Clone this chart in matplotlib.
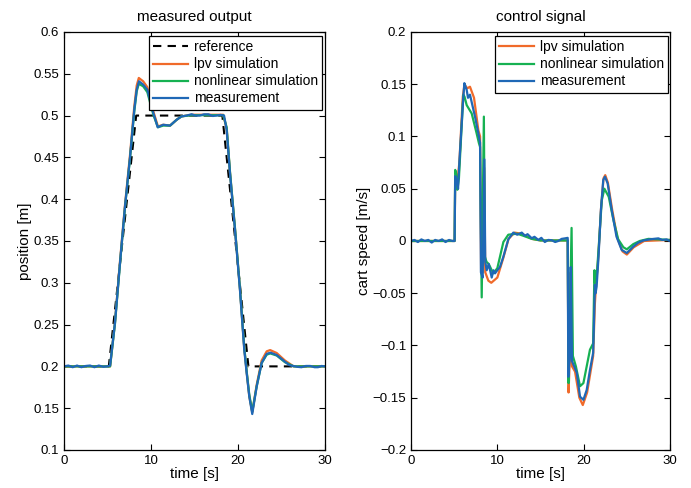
import numpy as np
import matplotlib
matplotlib.use('Agg')
import matplotlib.pyplot as plt
from matplotlib.ticker import FuncFormatter

plt.rcParams['font.family'] = ['Liberation Sans', 'DejaVu Sans']

# colours of the three traces
c_lpv = '#F06A2A'
c_nl = '#16B152'
c_meas = '#1F68B6'

# ---- left panel: measured output (time [s], position [m]) ----
ref_pos = [(0, 0.2), (5.15, 0.2), (8.3, 0.5), (18.2, 0.5), (21.2, 0.2), (30, 0.2)]

lpv_pos = [(0, 0.2), (5.3, 0.2), (5.86, 0.253), (6.44, 0.326), (7.01, 0.393), (7.59, 0.453),
           (8.08, 0.511), (8.36, 0.536), (8.6, 0.545), (9.1, 0.541), (9.58, 0.534), (10.27, 0.505),
           (10.8, 0.487), (11.4, 0.489), (12.2, 0.488), (12.95, 0.495), (13.5, 0.499), (14.7, 0.501),
           (18.3, 0.501), (18.7, 0.484), (19.08, 0.432), (19.66, 0.364), (20.23, 0.292), (20.72, 0.222),
           (21.0, 0.193), (21.3, 0.164), (21.64, 0.145), (22.15, 0.178), (22.72, 0.207), (23.3, 0.218),
           (23.7, 0.2195), (24.45, 0.216), (25.4, 0.207), (26.4, 0.2), (30, 0.2)]

nl_pos = [(0, 0.2), (5.3, 0.2), (5.86, 0.251), (6.44, 0.323), (7.01, 0.39), (7.59, 0.449),
          (8.08, 0.505), (8.36, 0.529), (8.6, 0.538), (9.1, 0.535), (9.58, 0.528), (10.27, 0.501),
          (10.8, 0.486), (11.4, 0.488), (12.2, 0.488), (12.95, 0.495), (13.5, 0.499), (14.7, 0.5005),
          (18.3, 0.5005), (18.7, 0.486), (19.08, 0.433), (19.66, 0.365), (20.23, 0.293), (20.72, 0.223),
          (21.0, 0.194), (21.3, 0.166), (21.64, 0.146), (22.15, 0.176), (22.72, 0.204), (23.3, 0.214),
          (23.7, 0.2155), (24.45, 0.213), (25.4, 0.205), (26.4, 0.2), (30, 0.2)]

meas_pos = [(0, 0.2), (0.5, 0.201), (1.0, 0.199), (1.5, 0.201), (2.0, 0.199), (2.5, 0.2005),
            (3.0, 0.201), (3.5, 0.199), (4.0, 0.201), (4.5, 0.1995), (5.0, 0.2), (5.3, 0.201),
            (5.86, 0.252), (6.44, 0.324), (7.01, 0.391), (7.59, 0.45), (8.08, 0.507), (8.36, 0.531),
            (8.62, 0.541), (9.1, 0.537), (9.58, 0.531), (10.27, 0.503), (10.77, 0.486), (11.4, 0.489),
            (12.18, 0.488), (12.95, 0.495), (13.5, 0.499), (14.1, 0.5), (14.67, 0.5016), (15.1, 0.5),
            (15.6, 0.5), (16.1, 0.5015), (16.6, 0.5015), (17.1, 0.4995), (17.55, 0.5), (18.0, 0.5008),
            (18.4, 0.5), (18.7, 0.483), (19.08, 0.431), (19.66, 0.363), (20.23, 0.291), (20.72, 0.22),
            (21.0, 0.192), (21.3, 0.164), (21.64, 0.143), (22.15, 0.176), (22.72, 0.204), (23.3, 0.215),
            (23.75, 0.2164), (24.45, 0.2136), (25.4, 0.2056), (25.9, 0.2015), (26.36, 0.2005),
            (26.8, 0.1995), (27.3, 0.199), (27.8, 0.2005), (28.3, 0.2005), (28.8, 0.199), (29.2, 0.199),
            (29.6, 0.2005), (30, 0.2)]

# ---- right panel: control signal (time [s], cart speed [m/s]) ----
lpv_u = [(0, 0), (5.05, 0), (5.12, 0.06), (5.35, 0.055), (5.6, 0.075), (6.0, 0.138), (6.2, 0.15),
         (6.5, 0.146), (6.83, 0.1476), (7.3, 0.137), (7.8, 0.106), (8.0, 0.1), (8.12, -0.03),
         (8.3, -0.03), (8.48, 0.07), (8.6, -0.03), (8.96, -0.038), (9.3, -0.04), (10.0, -0.035),
         (10.7, -0.016), (11.3, 0.002), (12.0, 0.008), (12.8, 0.007), (14.0, 0.002), (15.0, 0.0005),
         (18.15, 0.0005), (18.25, -0.145), (18.4, -0.11), (18.5, -0.03), (18.65, -0.12), (19.0, -0.125),
         (19.5, -0.15), (19.9, -0.157), (20.4, -0.145), (20.8, -0.125), (21.1, -0.11), (21.3, -0.06),
         (21.4, -0.047), (21.7, -0.015), (22.0, 0.03), (22.3, 0.06), (22.5, 0.063), (22.8, 0.056),
         (23.3, 0.03), (23.9, 0.003), (24.5, -0.01), (25.0, -0.013), (25.8, -0.006), (27.0, 0),
         (30, 0.001)]

nl_u = [(0, 0), (5.05, 0), (5.12, 0.068), (5.3, 0.062), (5.37, 0.049), (5.55, 0.06), (6.06, 0.14),
        (6.2, 0.138), (6.45, 0.13), (7.03, 0.122), (7.6, 0.103), (7.87, 0.0935), (8.0, 0.09),
        (8.19, -0.054), (8.44, 0.119), (8.55, -0.015), (8.75, -0.02), (9.0, -0.022), (9.53, -0.031),
        (10.0, -0.026), (10.7, -0.001), (11.27, 0.006), (12.3, 0.007), (13.0, 0.005), (14.0, 0.002),
        (15.0, 0.0005), (18.15, 0.0005), (18.25, -0.136), (18.35, -0.09), (18.6, 0.0125),
        (18.75, -0.11), (19.1, -0.12), (19.58, -0.139), (19.97, -0.136), (20.35, -0.12),
        (20.73, -0.104), (21.1, -0.098), (21.18, -0.06), (21.25, -0.028), (21.3, -0.04),
        (21.5, -0.035), (21.75, -0.005), (22.1, 0.039), (22.4, 0.05), (22.9, 0.0424), (23.45, 0.02),
        (24.0, 0.0016), (24.6, -0.006), (25.0, -0.008), (25.75, -0.003), (26.5, 0), (27.5, 0.002),
        (30, 0.001)]

meas_u = [(0, 0), (0.4, 0.001), (0.8, -0.001), (1.2, 0.0015), (1.6, 0), (2.0, 0.001), (2.4, -0.0015),
          (2.8, 0.001), (3.2, 0), (3.6, 0.0015), (4.0, -0.001), (4.4, 0.001), (4.8, 0), (5.05, 0),
          (5.12, 0.062), (5.3, 0.058), (5.45, 0.05), (5.6, 0.075), (6.0, 0.13), (6.18, 0.151),
          (6.3, 0.148), (6.45, 0.1445), (6.6, 0.137), (6.83, 0.14), (7.41, 0.119), (7.8, 0.103),
          (8.0, 0.094), (8.1, -0.03), (8.3, -0.035), (8.5, 0.078), (8.6, -0.02), (8.77, -0.028),
          (9.0, -0.022), (9.35, -0.035), (9.55, -0.028), (9.73, -0.031), (10.0, -0.028), (10.3, -0.025),
          (10.7, -0.015), (11.27, 0.0016), (11.85, 0.008), (12.3, 0.006), (12.83, 0.008), (13.2, 0.005),
          (13.5, 0.0065), (13.98, 0.0026), (14.3, 0.004), (14.75, 0.001), (15.1, 0.003), (15.5, -0.001),
          (15.9, 0.001), (16.3, 0.0007), (16.7, -0.001), (17.06, 0), (17.45, 0.002), (17.84, 0.0025),
          (18.15, 0.003), (18.22, -0.13), (18.4, -0.11), (18.5, -0.025), (18.65, -0.115), (19.2, -0.126),
          (19.58, -0.149), (19.97, -0.152), (20.35, -0.1426), (20.73, -0.1234), (21.1, -0.107),
          (21.25, -0.06), (21.3, -0.042), (21.38, -0.05), (21.5, -0.0437), (21.7, -0.018), (22.0, 0.0297),
          (22.27, 0.0584), (22.47, 0.0615), (22.78, 0.055), (23.25, 0.0297), (23.8, 0.0042),
          (24.4, -0.0085), (25.0, -0.0115), (25.75, -0.0054), (26.3, -0.0017), (26.9, 0.0005),
          (27.5, 0.0013), (28.1, 0.002), (28.65, 0.0025), (29.1, 0.001), (29.6, 0.0015), (30, 0)]


def xy(pairs):
    a = np.array(pairs, dtype=float)
    return a[:, 0], a[:, 1]


def matlab_fmt(v, pos):
    if abs(v) < 1e-9:
        return '0'
    s = '%g' % round(v, 4)
    return s.replace('-', '\u2212')


def style(ax):
    ax.tick_params(direction='in', top=True, right=True, length=4, width=0.8,
                   labelsize=9.5, colors='black')
    for sp in ax.spines.values():
        sp.set_linewidth(0.9)
        sp.set_color('black')
    ax.set_xlim(0, 30)
    ax.set_xticks([0, 10, 20, 30])
    ax.yaxis.set_major_formatter(FuncFormatter(matlab_fmt))
    ax.set_xlabel('time [s]', fontsize=11, labelpad=0)


fig = plt.figure(figsize=(6.91, 4.88), dpi=100)
ax1 = fig.add_axes([0.0926, 0.0779, 0.3777, 0.8566])
ax2 = fig.add_axes([0.5948, 0.0779, 0.3748, 0.8566])

lw = 1.6
ax1.plot(*xy(ref_pos), '--', color='black', lw=1.5, dashes=(4, 3), label='reference')
ax1.plot(*xy(lpv_pos), color=c_lpv, lw=lw, label='lpv simulation')
ax1.plot(*xy(nl_pos), color=c_nl, lw=lw, label='nonlinear simulation')
ax1.plot(*xy(meas_pos), color=c_meas, lw=lw, label='measurement')
style(ax1)
ax1.set_ylim(0.1, 0.6)
ax1.set_yticks(np.arange(0.1, 0.601, 0.05))
ax1.set_ylabel('position [m]', fontsize=11, labelpad=1)
ax1.set_title('measured output', fontsize=11, pad=8)

ax2.plot(*xy(lpv_u), color=c_lpv, lw=lw, label='lpv simulation')
ax2.plot(*xy(nl_u), color=c_nl, lw=lw, label='nonlinear simulation')
ax2.plot(*xy(meas_u), color=c_meas, lw=lw, label='measurement')
style(ax2)
ax2.set_ylim(-0.2, 0.2)
ax2.set_yticks(np.arange(-0.2, 0.201, 0.05))
ax2.set_ylabel('cart speed [m/s]', fontsize=11, labelpad=1)
ax2.set_title('control signal', fontsize=11, pad=8)

for ax, anchor in ((ax1, (0.9885, 0.990)), (ax2, (0.992, 0.990))):
    leg = ax.legend(loc='upper right', bbox_to_anchor=anchor, borderaxespad=0,
                    fontsize=10, handlelength=2.5, handletextpad=0.4, labelspacing=0.22,
                    borderpad=0.3, fancybox=False, framealpha=1)
    leg.get_frame().set_edgecolor('black')
    leg.get_frame().set_linewidth(0.9)

fig.savefig('out.png', dpi=100)
